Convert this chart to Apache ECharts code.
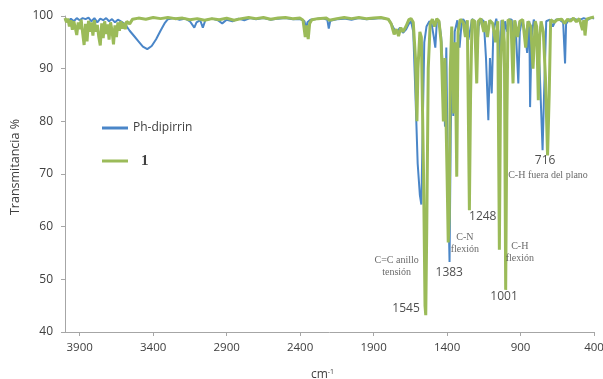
<!DOCTYPE html>
<html>
<head>
<meta charset="utf-8">
<script src="https://cdn.jsdelivr.net/npm/echarts@6/dist/echarts.min.js"></script>
<style>
html,body{margin:0;padding:0;background:#fff;}
#c{width:603px;height:379px;}
</style>
</head>
<body>
<div id="c"></div>
<script>
// Ph-dipirrin spectrum: [wavenumber cm-1, transmittance %]
var phDipirrin = [
[4000,99.3],[3980,99.0],[3960,99.5],[3940,99.0],[3920,99.6],[3900,99.2],[3880,99.6],[3860,99.4],
[3840,99.7],[3820,99.0],[3800,99.6],[3780,98.8],[3760,99.5],[3740,99.2],[3720,99.6],[3700,99.0],
[3680,99.4],[3660,98.8],[3640,99.3],[3620,99.0],[3600,98.6],[3580,98.0],[3560,97.2],[3530,96.2],
[3500,95.2],[3470,94.2],[3440,93.7],[3410,94.3],[3380,95.6],[3350,97.2],[3320,98.7],[3300,99.4],
[3260,99.6],[3220,99.3],[3180,99.5],[3150,99.0],[3120,97.8],[3105,98.8],[3080,99.2],[3062,97.8],
[3045,99.2],[3000,99.5],[2960,99.2],[2930,98.6],[2900,99.3],[2860,99.0],[2820,99.5],[2780,99.2],
[2740,99.6],[2700,99.4],[2650,99.6],[2600,99.3],[2550,99.5],[2500,99.6],[2450,99.4],[2400,99.4],
[2370,99.0],[2360,97.5],[2350,98.8],[2330,99.3],[2300,99.4],[2250,99.6],[2215,99.3],[2205,97.6],
[2195,99.1],[2150,99.4],[2100,99.5],[2050,99.3],[2000,99.6],[1950,99.4],[1900,99.5],[1850,99.6],
[1800,99.4],[1780,98.6],[1760,97.5],[1740,97.0],[1720,97.8],[1700,96.8],[1680,97.4],[1660,98.5],
[1645,99.0],[1630,97.0],[1615,85],[1600,72],[1585,66],[1575,64.2],[1565,80],[1555,95],
[1540,98],[1520,99],[1505,98.5],[1490,96],[1480,94],[1470,98.8],[1455,99.2],[1440,96],
[1425,88],[1414,79],[1405,94],[1395,70],[1383,53.3],[1375,78],[1365,93],[1357,81],
[1348,97],[1330,99.2],[1315,94],[1300,99],[1290,99.4],[1270,98.5],[1255,95.5],[1245,97],
[1230,99.4],[1210,99],[1195,93],[1185,98],[1170,99.5],[1150,99],[1135,92],[1119,80.2],
[1108,92],[1096,85.3],[1085,97],[1065,99.5],[1050,97],[1040,89.7],[1030,99.2],[1015,95],
[1005,99],[990,97],[975,99.4],[960,99.3],[945,94],[935,99],[915,87.2],[905,97],
[890,99.3],[870,97],[855,93],[840,99],[835,82.7],[825,96],[810,99.3],[790,98],
[770,90],[750,74.5],[740,85],[725,99],[700,99.3],[680,98],[660,99.3],[640,99.4],
[610,98.8],[597,91],[590,98.5],[570,99.3],[540,99.5],[500,99.2],[470,99.6],[440,99.3],
[420,99.7],[400,99.5]
];

// Compound 1 spectrum: [wavenumber cm-1, transmittance %]
var compound1 = [
[4000,99.6],[3990,98.8],[3980,99.5],[3970,98.0],[3960,99.2],[3950,97.4],[3940,99.0],[3930,97.8],
[3920,96.4],[3910,98.8],[3900,97.5],[3890,99.3],[3880,96.8],[3870,94.5],[3860,98.5],[3850,95.2],
[3840,99.1],[3830,97.0],[3820,98.8],[3810,96.3],[3800,99.2],[3790,97.0],[3780,98.3],[3770,96.0],
[3760,94.4],[3750,98.6],[3740,95.8],[3730,99.0],[3720,96.6],[3710,98.4],[3700,95.5],[3690,98.8],
[3680,97.2],[3670,94.6],[3660,98.2],[3650,96.0],[3640,98.8],[3630,97.2],[3620,99.0],[3610,97.6],
[3600,98.7],[3590,97.5],[3580,99.0],[3560,98.5],[3540,99.4],[3500,99.6],[3450,99.4],[3400,99.7],
[3350,99.5],[3300,99.7],[3250,99.5],[3200,99.6],[3150,99.3],[3100,99.5],[3050,99.2],[3000,99.5],
[2950,99.3],[2900,99.6],[2850,99.2],[2800,99.5],[2750,99.7],[2700,99.5],[2650,99.7],[2600,99.4],
[2550,99.6],[2500,99.7],[2450,99.5],[2400,99.6],[2380,99.2],[2365,96.0],[2355,98.2],[2345,95.6],
[2335,98.6],[2320,99.3],[2280,99.5],[2220,99.6],[2200,99.2],[2150,99.5],[2100,99.7],[2050,99.5],
[2000,99.7],[1950,99.5],[1900,99.6],[1850,99.7],[1800,99.4],[1780,98.5],[1760,96.5],[1745,97.5],
[1730,96.2],[1715,97.8],[1700,97.0],[1680,98.0],[1660,99.3],[1645,99.5],[1630,98.8],[1615,92],
[1605,80],[1598,90],[1585,97],[1575,96],[1560,70],[1550,45],[1545,43.2],[1538,60],
[1528,90],[1515,98.5],[1500,99.4],[1485,98],[1470,99.5],[1455,99],[1440,95],[1425,80],
[1415,92],[1400,70],[1392,57],[1385,62],[1378,90],[1368,98],[1355,81.5],[1345,95],
[1334,69.5],[1325,97],[1310,99.4],[1290,98.8],[1275,96],[1262,99.2],[1248,63.1],[1240,85],
[1230,99.3],[1212,99],[1198,87.2],[1188,99],[1170,99.5],[1150,97],[1140,99],[1125,96],
[1110,99.2],[1090,98.6],[1070,95],[1055,99],[1044,55.6],[1035,90],[1022,99.3],[1010,95],
[1001,48],[993,80],[985,99.3],[965,99],[951,87.2],[940,99.2],[920,96],[905,99],
[885,99.3],[865,94],[850,99],[830,98],[815,90],[800,99],[790,98],[779,84],
[770,96],[760,99],[745,97],[730,88],[716,73.5],[705,85],[695,99.3],[670,98.8],
[650,99.3],[620,99.4],[600,98.6],[580,99.4],[560,99],[540,99.6],[520,98.9],[500,99.5],
[478,97.3],[470,99.2],[461,96.3],[450,99.4],[430,99.6],[400,99.8]
];

// tick labels of the wavenumber axis
var xTicks = [3900,3400,2900,2400,1900,1400,900,400];

// peak number annotations: [wavenumber, transmittance, text]
var peakNumbers = [
[733,72.6,'716'],[1157,62.0,'1248'],[1385,51.3,'1383'],[1012,46.8,'1001'],[1679,44.4,'1545']
];
// assignment annotations: [wavenumber, transmittance, text]
var peakNotes = [
[713,69.65,'C-H fuera del plano'],
[1279,56.9,'C-N\nflexión'],
[1743,52.45,'C=C anillo\ntensión'],
[905,55.2,'C-H\nflexión']
];

var chart = echarts.init(document.getElementById('c'), null, {renderer:'canvas'});
var axisGray = '#a6a6a6';
var textCol = '#404040';

function annoData(list, style){
  return list.map(function(a){
    return {value:[a[0],a[1]], label:Object.assign({show:true, formatter:a[2], position:'inside'}, style)};
  });
}

chart.setOption({
  animation:false,
  backgroundColor:'#fff',
  grid:{left:65, right:9, top:16, bottom:47, containLabel:false, outerBoundsMode:'none'},
  legend:{
    orient:'vertical', left:97, top:115, itemGap:17, itemWidth:26, itemHeight:3,
    data:[
      {name:'Ph-dipirrin', icon:'rect', textStyle:{fontFamily:'Open Sans', fontSize:12, color:'#404040', lineHeight:16}},
      {name:'1', icon:'rect', textStyle:{fontFamily:'Liberation Serif', fontSize:15, fontWeight:'bold', color:'#404040', padding:[0,0,0,8], lineHeight:16}}
    ]
  },
  xAxis:{
    type:'value', inverse:true, min:400, max:4000,
    name:'{a|cm}{b|-1}', nameLocation:'middle', nameGap:36,
    nameTextStyle:{padding:[0,14,0,0], rich:{a:{fontFamily:'Open Sans', fontSize:12, color:textCol}, b:{fontFamily:'Open Sans', fontSize:7, color:textCol, verticalAlign:'top', padding:[0,0,6,0]}}},
    axisLine:{show:true, onZero:false, lineStyle:{color:axisGray, width:1}},
    axisTick:{show:true, length:4, inside:false, customValues:xTicks, lineStyle:{color:axisGray}},
    axisLabel:{customValues:xTicks, fontFamily:'Open Sans', fontSize:11.5, color:textCol, margin:10,
      formatter:function(v){return String(v);}},
    splitLine:{show:false}
  },
  yAxis:{
    type:'value', min:40, max:100, interval:10,
    name:'Transmitancia %', nameLocation:'middle', nameGap:40, nameRotate:90,
    nameTextStyle:{fontFamily:'Open Sans', fontSize:12.5, color:textCol, padding:[0,0,0,14], align:'center', verticalAlign:'middle'},
    axisLine:{show:true, lineStyle:{color:axisGray, width:1}},
    axisTick:{show:true, length:4, lineStyle:{color:axisGray}},
    axisLabel:{fontFamily:'Open Sans', fontSize:12, color:textCol, margin:12},
    splitLine:{show:false}
  },
  series:[
    {name:'Ph-dipirrin', type:'line', data:phDipirrin, symbol:'none', showSymbol:false,
     lineStyle:{color:'#4a86c8', width:2}, itemStyle:{color:'#4a86c8'}, z:2},
    {name:'1', type:'line', data:compound1, symbol:'none', showSymbol:false,
     lineStyle:{color:'#9bbb59', width:3}, itemStyle:{color:'#9bbb59'}, z:3},
    {name:'numbers', type:'scatter', symbolSize:0, silent:true, z:5,
     data:annoData(peakNumbers, {fontFamily:'Open Sans', fontSize:12, color:'#222'})},
    {name:'notes', type:'scatter', symbolSize:0, silent:true, z:5,
     data:annoData(peakNotes, {fontFamily:'Liberation Serif', fontSize:10, color:'#444', lineHeight:12, align:'center'})}
  ]
});
</script>
</body>
</html>
